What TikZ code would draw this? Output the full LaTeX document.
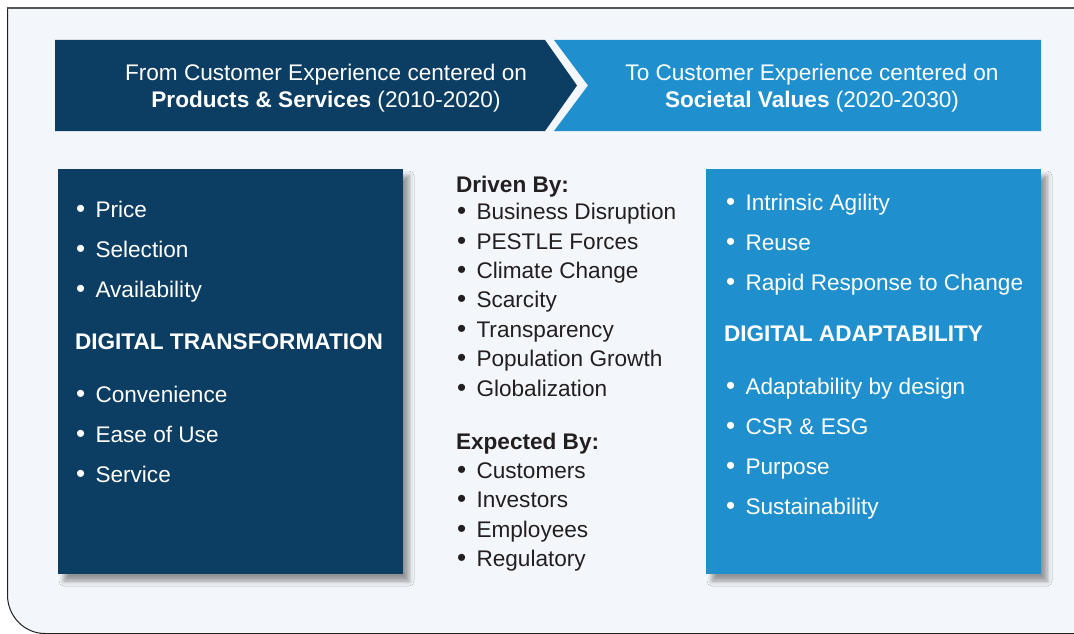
\documentclass[tikz,border=0pt]{standalone}
\usepackage{fontspec}
\setmainfont{Liberation Sans}
\usetikzlibrary{shadows.blur}
\definecolor{navy}{RGB}{12,61,98}
\definecolor{sky}{RGB}{31,144,205}
\definecolor{bg}{RGB}{243,246,250}
\definecolor{ink}{RGB}{35,31,32}
\definecolor{framegray}{RGB}{85,85,85}
\newcommand\bitem[1]{\makebox[19.5pt][l]{\scalebox{1.15}{•}}#1}
\tikzset{
  txt/.style={anchor=base west, inner sep=0pt, outer sep=0pt, font=\fontsize{22.6}{26}\selectfont},
  wtxt/.style={txt, text=white},
  ktxt/.style={txt, text=ink},
  bantxt/.style={anchor=base, inner sep=0pt, text=white, font=\fontsize{22.6}{26}\selectfont},
  panel/.style={inner sep=0pt, outer sep=0pt,
    blur shadow={shadow xshift=6pt, shadow yshift=-7pt, shadow blur radius=5pt, shadow opacity=40}},
}
\begin{document}
\begin{tikzpicture}[x=1pt,y=-1pt]
\useasboundingbox (0,0) rectangle (1074,634);
\fill[white] (0,0) rectangle (1074,634);
% frame
\fill[bg] (1080,8) -- (7.5,8) -- (7.5,595) .. controls (7.5,616) and (24,633.5) .. (45,633.5) -- (1080,633.5) -- cycle;
\draw[ink, line width=1pt] (7.5,8) -- (7.5,595) .. controls (7.5,616) and (24,633.5) .. (45,633.5) -- (1080,633.5);
\draw[framegray, line width=2pt] (7,8) -- (1080,8);
% banner
\fill[navy] (55,40) -- (545,40) -- (577,85.5) -- (545,131) -- (55,131) -- cycle;
\fill[sky] (554,40) -- (1041,40) -- (1041,131) -- (554,131) -- (588,85.5) -- cycle;
\node[bantxt] (b1a) at (326,81) {From Customer Experience centered on};
\node[bantxt] (b1b) at (326,107) {\textbf{Products \& Services} (2010-2020)};
\node[bantxt] (b2a) at (812,81) {To Customer Experience centered on};
\node[bantxt] (b2b) at (812,107) {\textbf{Societal Values} (2020-2030)};
% panels
\path (58,169) coordinate (lp1) (403,574) coordinate (lp2);
\path (706,169) coordinate (rp1) (1041,574) coordinate (rp2);
\path[panel, fill=navy] (lp1) rectangle (lp2);
\path[panel, fill=sky] (rp1) rectangle (rp2);
% left panel text
\node[wtxt] (l1) at (76,217) {\bitem{Price}};
\node[wtxt] (l2) at (76,257) {\bitem{Selection}};
\node[wtxt] (l3) at (76,297) {\bitem{Availability}};
\node[wtxt] (lh) at (75,349) {\textbf{DIGITAL TRANSFORMATION}};
\node[wtxt] (l4) at (76,402) {\bitem{Convenience}};
\node[wtxt] (l5) at (76,442) {\bitem{Ease of Use}};
\node[wtxt] (l6) at (76,482) {\bitem{Service}};
% middle text
\node[ktxt] (mh1) at (456,192) {\textbf{Driven By:}};
\node[ktxt] (m1) at (457,219) {\bitem{Business Disruption}};
\node[ktxt] (m2) at (457,249) {\bitem{PESTLE Forces}};
\node[ktxt] (m3) at (457,278) {\bitem{Climate Change}};
\node[ktxt] (m4) at (457,307) {\bitem{Scarcity}};
\node[ktxt] (m5) at (457,337) {\bitem{Transparency}};
\node[ktxt] (m6) at (457,366) {\bitem{Population Growth}};
\node[ktxt] (m7) at (457,396) {\bitem{Globalization}};
\node[ktxt] (mh2) at (456,449) {\textbf{Expected By:}};
\node[ktxt] (m8) at (457,478) {\bitem{Customers}};
\node[ktxt] (m9) at (457,507) {\bitem{Investors}};
\node[ktxt] (m10) at (457,537) {\bitem{Employees}};
\node[ktxt] (m11) at (457,566) {\bitem{Regulatory}};
% right panel text
\node[wtxt] (r1) at (726,210) {\bitem{Intrinsic Agility}};
\node[wtxt] (r2) at (726,250) {\bitem{Reuse}};
\node[wtxt] (r3) at (726,290) {\bitem{Rapid Response to Change}};
\node[wtxt] (rh) at (724,341) {\textbf{DIGITAL ADAPTABILITY}};
\node[wtxt] (r4) at (726,394) {\bitem{Adaptability by design}};
\node[wtxt] (r5) at (726,434) {\bitem{CSR \& ESG}};
\node[wtxt] (r6) at (726,474) {\bitem{Purpose}};
\node[wtxt] (r7) at (726,514) {\bitem{Sustainability}};
\end{tikzpicture}
\end{document}
